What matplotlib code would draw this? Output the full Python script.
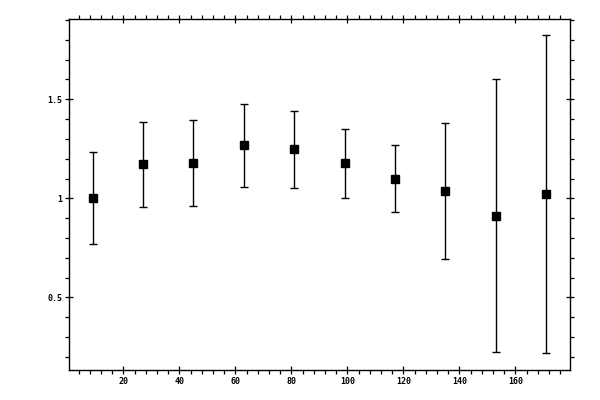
import numpy as np
import matplotlib
matplotlib.use('Agg')
import matplotlib.pyplot as plt
from matplotlib.ticker import MultipleLocator, FuncFormatter

# data
x = [9, 27, 45, 63, 81, 99, 117, 135, 153, 171]
y = [1.000, 1.172, 1.177, 1.268, 1.247, 1.177, 1.096, 1.035, 0.909, 1.020]
y_hi = [1.232, 1.387, 1.397, 1.478, 1.439, 1.351, 1.268, 1.379, 1.601, 1.825]
y_lo = [0.768, 0.955, 0.960, 1.056, 1.050, 1.000, 0.930, 0.692, 0.222, 0.217]

y = np.array(y)
err_up = np.array(y_hi) - y
err_dn = y - np.array(y_lo)

fig = plt.figure(figsize=(6, 4), dpi=100)
ax = fig.add_axes([0.1155, 0.075, 0.835, 0.8768])

ax.errorbar(x, y, yerr=[err_dn, err_up], fmt='s', color='black',
            markersize=5.2, capsize=3.2, elinewidth=1.0, capthick=1.0)

ax.set_xlim(0.7, 179.6)
ax.set_ylim(0.133, 1.904)

ax.xaxis.set_major_locator(MultipleLocator(20))
ax.xaxis.set_minor_locator(MultipleLocator(4))
ax.yaxis.set_major_locator(MultipleLocator(0.5))
ax.yaxis.set_minor_locator(MultipleLocator(0.1))
ax.yaxis.set_major_formatter(FuncFormatter(lambda v, p: '%g' % v))

for s in ax.spines.values():
    s.set_linewidth(1.0)

ax.tick_params(which='major', direction='inout', length=5.8, width=0.9,
               top=True, right=True, labelsize=6, pad=2)
ax.tick_params(which='minor', direction='out', length=2.6, width=0.9,
               top=True, right=True)
for lab in ax.get_xticklabels() + ax.get_yticklabels():
    lab.set_family('DejaVu Sans Mono')
    lab.set_weight('bold')

fig.savefig('out.png', dpi=100)
